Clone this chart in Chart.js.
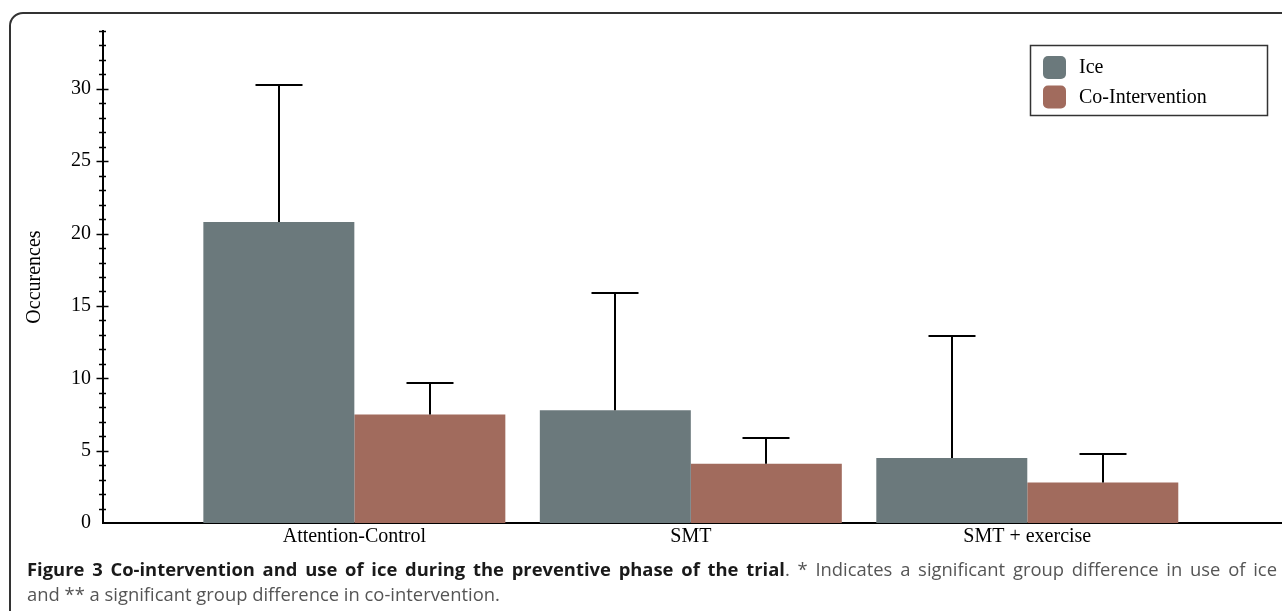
<!DOCTYPE html>
<html>
<head>
<meta charset="utf-8">
<script src="https://cdn.jsdelivr.net/npm/chart.js@4.4.1/dist/chart.umd.min.js"></script>
<style>
  html, body { margin: 0; padding: 0; background: #fff; }
  #wrap { position: relative; width: 1282px; height: 611px; overflow: hidden; }
  #frame {
    position: absolute; left: 9px; top: 12px; width: 1320px; height: 700px;
    border: 2px solid #333; border-radius: 14px; box-sizing: border-box;
  }
  canvas { position: absolute; left: 0; top: 0; }
  .cap {
    position: absolute; left: 27px; width: 1250px;
    font-family: "Open Sans", sans-serif; font-size: 18.4px; line-height: 25px;
    color: #555; white-space: normal;
  }
  .cap b { color: #1a1a1a; font-weight: 700; }
  #cap1 { top: 556px; text-align: justify; text-align-last: justify; }
  #cap2 { top: 581px; text-align: left; }
</style>
</head>
<body>
<div id="wrap">
  <div id="frame"></div>
  <canvas id="chart" width="1282" height="611"></canvas>
  <div class="cap" id="cap1"><b>Figure 3 Co-intervention and use of ice during the preventive phase of the trial</b>. * Indicates a significant group difference in use of ice</div>
  <div class="cap" id="cap2">and ** a significant group difference in co-intervention.</div>
</div>
<script>
// Groups on the x axis
const categories = ['Attention-Control', 'SMT', 'SMT + exercise'];
const seriesNames = ['Ice', 'Co-Intervention'];

// Mean occurrences per group
const iceMeans = [20.8, 7.8, 4.5];
const coInterventionMeans = [7.5, 4.1, 2.8];

// Standard deviations (upper error bars)
const iceSD = [9.5, 8.1, 8.4];
const coInterventionSD = [2.2, 1.8, 2.0];

// Y axis range and labelled ticks
const yMax = 34;
const yLabelStep = 5;

const serif = "'Liberation Serif', 'Times New Roman', serif";
const labelSize = 20;
const iceColor = '#6b797c';
const coColor = '#a16b5d';

// Upward error bars with caps
const errorBars = {
  id: 'errorBars',
  afterDatasetsDraw(chart) {
    const ctx = chart.ctx;
    const y = chart.scales.y;
    ctx.save();
    ctx.strokeStyle = '#000';
    ctx.lineWidth = 2;
    chart.data.datasets.forEach((ds, di) => {
      const meta = chart.getDatasetMeta(di);
      meta.data.forEach((bar, i) => {
        const top = Math.round(y.getPixelForValue(ds.data[i].y + ds.sd[i]));
        const x = Math.round(bar.x);
        ctx.beginPath();
        ctx.moveTo(x, bar.y);
        ctx.lineTo(x, top);
        ctx.moveTo(x - 23.5, top);
        ctx.lineTo(x + 23.5, top);
        ctx.stroke();
      });
    });
    ctx.restore();
  }
};

// Ticks crossing the y axis: long at labelled values, short in between
const crossTicks = {
  id: 'crossTicks',
  afterDraw(chart) {
    const ctx = chart.ctx;
    const y = chart.scales.y;
    const ax = chart.chartArea.left - 0.5;
    ctx.save();
    ctx.strokeStyle = '#000';
    ctx.lineWidth = 1.5;
    y.ticks.forEach(t => {
      if (t.value === 0) return;
      const py = Math.round(y.getPixelForValue(t.value)) + 0.5;
      const half = (t.value % yLabelStep === 0) ? 6 : 3.5;
      ctx.beginPath();
      ctx.moveTo(ax - half, py);
      ctx.lineTo(ax + half, py);
      ctx.stroke();
    });
    ctx.restore();
  }
};

// Boxed legend in the upper right
const boxLegend = {
  id: 'boxLegend',
  afterDraw(chart) {
    const ctx = chart.ctx;
    ctx.save();
    ctx.strokeStyle = '#333';
    ctx.lineWidth = 1.5;
    ctx.strokeRect(1030.5, 45.5, 237, 70);
    ctx.font = labelSize + 'px ' + serif;
    ctx.textBaseline = 'middle';
    ctx.textAlign = 'left';
    chart.data.datasets.forEach((ds, i) => {
      const sy = 56 + i * 29.5;
      ctx.fillStyle = ds.backgroundColor;
      ctx.beginPath();
      ctx.roundRect(1043, sy, 23, 23, 5);
      ctx.fill();
      ctx.fillStyle = '#000';
      ctx.fillText(ds.label, 1079, sy + 12);
    });
    ctx.restore();
  }
};

const toPoints = arr => arr.map((v, i) => ({ x: i, y: v }));

new Chart(document.getElementById('chart'), {
  type: 'bar',
  data: {
    datasets: [
      { label: seriesNames[0], data: toPoints(iceMeans), sd: iceSD, backgroundColor: iceColor },
      { label: seriesNames[1], data: toPoints(coInterventionMeans), sd: coInterventionSD, backgroundColor: coColor }
    ]
  },
  options: {
    responsive: false,
    devicePixelRatio: 1,
    animation: false,
    layout: { padding: { top: 31, left: 0, right: 0, bottom: 0 } },
    datasets: { bar: { categoryPercentage: 0.8975, barPercentage: 1.0, borderWidth: 0 } },
    plugins: { legend: { display: false }, tooltip: { enabled: false } },
    scales: {
      x: {
        type: 'linear',
        offset: false,
        min: -0.747,
        max: 2.757,
        grid: { display: false, drawTicks: false, offset: false },
        border: { display: true, color: '#000', width: 2 },
        afterBuildTicks(scale) {
          scale.ticks = categories.map((c, i) => ({ value: i }));
        },
        ticks: {
          autoSkip: false,
          maxRotation: 0,
          padding: 2,
          color: '#000',
          font: { family: serif, size: labelSize },
          callback: v => categories[v] ?? ''
        },
        afterFit(scale) { scale.height = 88; }
      },
      y: {
        min: 0,
        max: yMax,
        grid: { display: false, drawTicks: false },
        border: { display: true, color: '#000', width: 2 },
        ticks: {
          stepSize: 1,
          autoSkip: false,
          padding: 12,
          color: '#000',
          font: { family: serif, size: labelSize },
          callback: v => (v % yLabelStep === 0 ? String(v) : '')
        },
        title: {
          display: true,
          text: 'Occurences',
          color: '#000',
          font: { family: serif, size: labelSize },
          padding: { top: 23, bottom: 0 }
        },
        afterFit(scale) { scale.width = 103; }
      }
    }
  },
  plugins: [errorBars, crossTicks, boxLegend]
});
</script>
</body>
</html>
